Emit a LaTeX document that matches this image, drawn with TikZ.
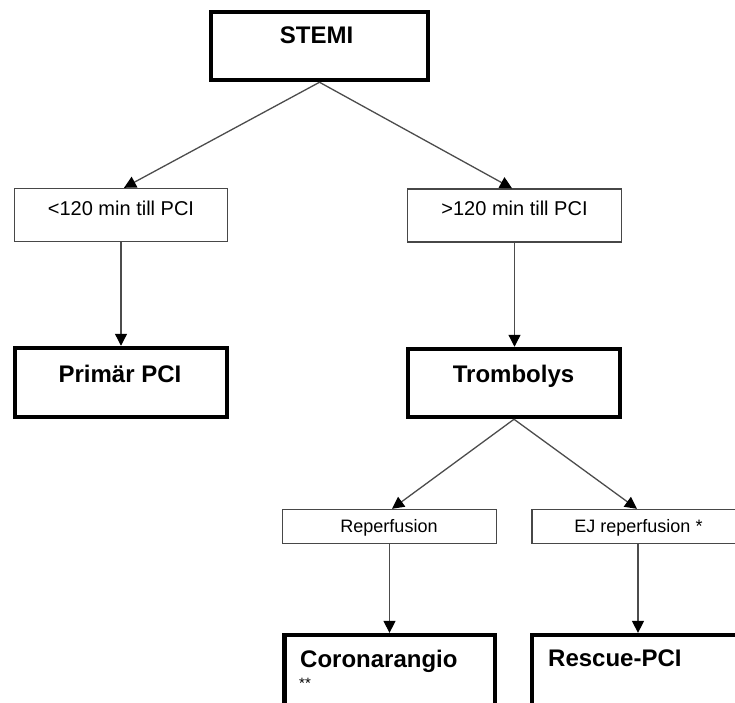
\documentclass[tikz,border=0pt]{standalone}
\usepackage{fontspec}
\setmainfont{Liberation Sans}
\usetikzlibrary{arrows.meta}
\begin{document}
\begin{tikzpicture}[x=1pt,y=-1pt,
  bigbox/.style={draw=black,line width=4.5pt,rectangle,inner sep=0pt},
  smallbox/.style={draw=black!72,line width=1.4pt,rectangle,inner sep=0pt},
  bigtxt/.style={font=\fontsize{24}{28}\selectfont\bfseries,inner sep=0pt},
  toptxt/.style={font=\fontsize{20}{24}\selectfont,inner sep=0pt,anchor=base},
  bottxt/.style={font=\fontsize{18}{22}\selectfont,inner sep=0pt,anchor=base},
  conn/.style={draw=black!70,line width=1.3pt,-{Triangle[length=12pt,width=12pt,color=black]}},
  plain/.style={draw=black!70,line width=1.3pt}]
\useasboundingbox (0,0) rectangle (735,702);
\clip (0,0) rectangle (735,702);
% boxes
\node[bigbox, minimum width=217pt, minimum height=68pt] (stemi) at (319.5,46) {};
\node[smallbox, minimum width=213pt, minimum height=53pt] (lt) at (121,215) {};
\node[smallbox, minimum width=214pt, minimum height=53pt] (rt) at (514.5,215.5) {};
\node[bigbox, minimum width=212pt, minimum height=69pt] (primar) at (121,382.5) {};
\node[bigbox, minimum width=212pt, minimum height=68pt] (tromb) at (514,383) {};
\node[smallbox, minimum width=214pt, minimum height=34pt] (rep) at (389.5,526.5) {};
\node[smallbox, minimum width=212pt, minimum height=34pt] (ej) at (638,526.5) {};
\node[bigbox, minimum width=210.5pt, minimum height=95pt] (coron) at (389.5,682.6) {};
\node[bigbox, minimum width=213pt, minimum height=95pt] (rescue) at (638.6,682.6) {};
% texts
\node[bigtxt,anchor=base] (stemiT) at (316.5,43) {STEMI};
\node[toptxt] (ltT) at (121,215) {<120 min till PCI};
\node[toptxt] (rtT) at (514.5,215) {>120 min till PCI};
\node[bigtxt,anchor=base] (primarT) at (120,382) {Primär PCI};
\node[bigtxt,anchor=base] (trombT) at (513.5,382) {Trombolys};
\node[bottxt] (repT) at (389,532) {Reperfusion};
\node[bottxt] (ejT) at (638.5,532) {EJ reperfusion *};
\node[bigtxt,anchor=base west] (coronT) at (300,667) {Coronarangio};
\node[font=\fontsize{15}{18}\selectfont,inner sep=0pt,anchor=base west] (starT) at (299,688) {**};
\node[bigtxt,anchor=base west] (rescueT) at (548,666) {Rescue-PCI};
% connectors
\draw[conn] (stemi.south) -- ([xshift=3pt]lt.north);
\draw[conn] (stemi.south) -- ([xshift=-2.5pt]rt.north);
\draw[conn] (lt.south) -- (lt.south |- primar.north);
\draw[conn] (rt.south) -- (rt.south |- tromb.north);
\draw[conn] (tromb.south) -- ([xshift=2.5pt]rep.north);
\draw[conn] (tromb.south) -- ([xshift=-1pt]ej.north);
\draw[conn] (rep.south) -- (rep.south |- coron.north);
\draw[conn] (ej.south) -- (ej.south |- rescue.north);
\end{tikzpicture}
\end{document}
